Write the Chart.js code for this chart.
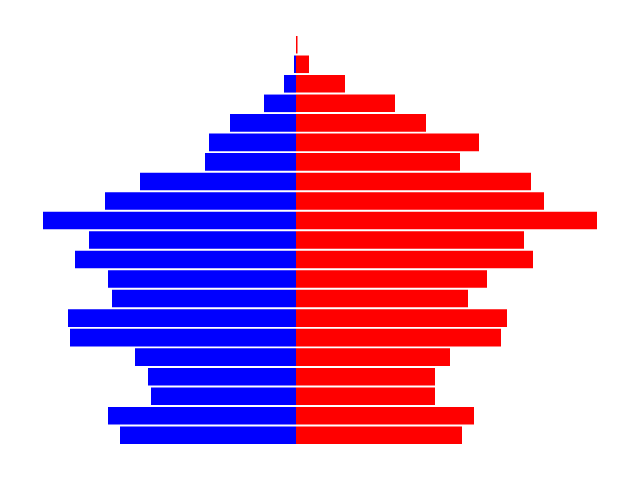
<!DOCTYPE html>
<html>
<head>
<meta charset="utf-8">
<script src="https://cdn.jsdelivr.net/npm/chart.js@4"></script>
<style>
html,body{margin:0;padding:0;background:#fff;}
#wrap{width:640px;height:480px;}
</style>
</head>
<body>
<div id="wrap"><canvas id="c" width="640" height="480"></canvas></div>
<script>
const ageGroups = ["100+","95-99","90-94","85-89","80-84","75-79","70-74","65-69","60-64","55-59","50-54","45-49","40-44","35-39","30-34","25-29","20-24","15-19","10-14","5-9","0-4"];
const male = [0, 2, 12, 32, 66, 87, 91, 156, 191, 253, 207, 221, 188, 184, 228, 226, 161, 148, 145, 188, 176];
const female = [1.5, 13, 49, 99, 130, 183, 164, 235, 248, 301, 228, 237, 191, 172, 211, 205, 154, 139, 139, 178, 166];
const xMin = -296, xMax = 344;

new Chart(document.getElementById('c'), {
  type: 'bar',
  data: {
    labels: ageGroups,
    datasets: [
      { label: 'Male', data: male.map(v => -v), backgroundColor: '#0000ff', borderWidth: 0 },
      { label: 'Female', data: female, backgroundColor: '#ff0000', borderWidth: 0 }
    ]
  },
  options: {
    indexAxis: 'y',
    responsive: false,
    animation: false,
    layout: { padding: { top: 35, bottom: 35, left: 0, right: 0 } },
    datasets: { bar: { categoryPercentage: 1.0, barPercentage: 0.9 } },
    plugins: { legend: { display: false }, tooltip: { enabled: false } },
    scales: {
      x: { display: false, stacked: true, min: xMin, max: xMax },
      y: { display: false, stacked: true }
    }
  }
});
</script>
</body>
</html>
